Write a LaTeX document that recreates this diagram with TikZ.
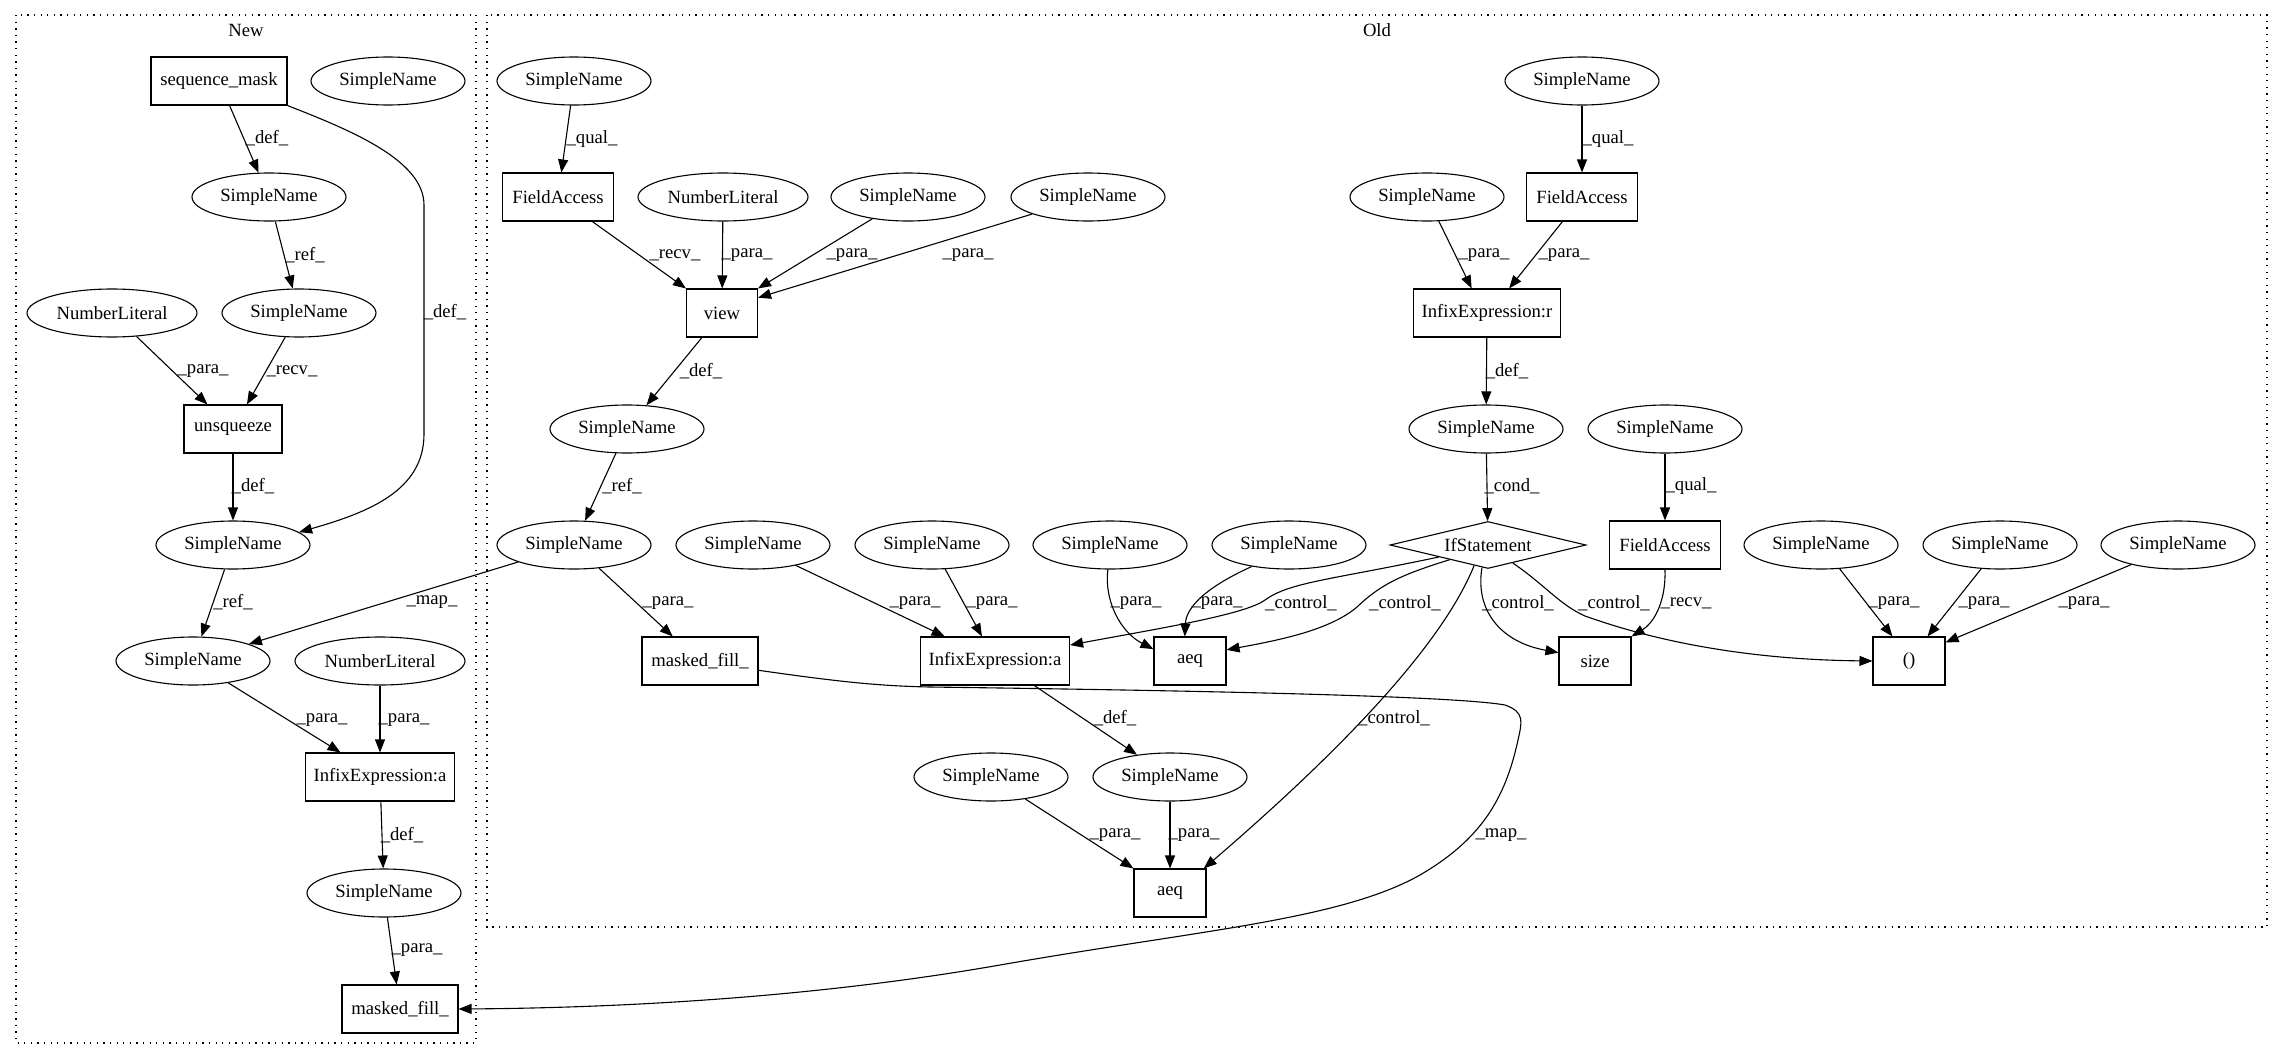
\documentclass[tikz,border=0pt]{standalone}
\usepackage{fontspec}
\setmainfont{Liberation Serif}
\usetikzlibrary{arrows.meta,shapes.geometric}
\tikzset{
  base/.style={draw, line width=1.1pt, font=\fontsize{18.67}{22}\selectfont, inner sep=0pt, minimum height=48pt},
  sn/.style={base, ellipse, minimum width=154pt},
  nl/.style={base, ellipse, minimum width=170pt},
  bx/.style={base, rectangle, minimum width=#1},
  dia/.style={base, diamond, minimum width=196pt, minimum height=47pt, aspect=4.17},
  edge/.style={line width=1.1pt, -{Triangle[length=13pt,width=10pt]}},
  lbl/.style={font=\fontsize{18.67}{22}\selectfont, inner sep=0pt},
  clus/.style={line width=1.3pt, dash pattern=on 1.3pt off 5.3pt}
}
\begin{document}
\begin{tikzpicture}[x=1pt,y=-1pt]
\path[use as bounding box, fill=white] (0,0) rectangle (2283,1060);
\draw[clus] (16,15) rectangle (476,1043);
\draw[clus] (487,15) rectangle (2267,927);
\node[lbl] (tnew) at (246,30) {New};
\node[lbl] (told) at (1377,30) {Old};

% ---------- New ----------
\node[bx=136pt] (nseq) at (219,81) {sequence\_mask};
\node[sn] (nsn0) at (388,81) {SimpleName};
\node[sn] (nsn1) at (269,197) {SimpleName};
\node[sn] (nsn2) at (299,313) {SimpleName};
\node[nl] (nnl1) at (112,313) {NumberLiteral};
\node[bx=98pt] (nunsq) at (233,429) {unsqueeze};
\node[sn] (nsn3) at (233,545) {SimpleName};
\node[sn] (nsn4) at (193,661) {SimpleName};
\node[nl] (nnl2) at (380,661) {NumberLiteral};
\node[bx=149pt] (ninfix) at (380,777) {InfixExpression:a};
\node[sn] (nsn5) at (384,893) {SimpleName};
\node[bx=116pt] (nmf) at (400,1009) {masked\_fill\_};

% ---------- Old ----------
\node[sn] (osn1) at (574,81) {SimpleName};
\node[sn] (osn2) at (1582,81) {SimpleName};
\node[bx=111pt] (ofa1) at (558,197) {FieldAccess};
\node[nl] (onl) at (723,197) {NumberLiteral};
\node[sn] (osn3) at (908,197) {SimpleName};
\node[sn] (osn4) at (1088,197) {SimpleName};
\node[sn] (osn5) at (1427,197) {SimpleName};
\node[bx=111pt] (ofa2) at (1582,197) {FieldAccess};
\node[bx=71pt] (oview) at (722,313) {view};
\node[bx=147pt] (oinfr) at (1487,313) {InfixExpression:r};
\node[sn] (osn6) at (627,429) {SimpleName};
\node[sn] (osn7) at (1486,429) {SimpleName};
\node[sn] (osn8) at (1665,429) {SimpleName};
\node[sn] (osn9) at (574,545) {SimpleName};
\node[sn] (osn10) at (753,545) {SimpleName};
\node[sn] (osn11) at (932,545) {SimpleName};
\node[sn] (osn12) at (1110,545) {SimpleName};
\node[sn] (osn13) at (1289,545) {SimpleName};
\node[dia] (oif) at (1488,545) {IfStatement};
\node[bx=111pt] (ofa3) at (1665,545) {FieldAccess};
\node[sn] (osn14) at (1821,545) {SimpleName};
\node[sn] (osn15) at (2000,545) {SimpleName};
\node[sn] (osn16) at (2178,545) {SimpleName};
\node[bx=116pt] (omf) at (700,661) {masked\_fill\_};
\node[bx=149pt] (oinfa) at (995,661) {InfixExpression:a};
\node[bx=72pt] (oaeq1) at (1190,661) {aeq};
\node[bx=72pt] (osize) at (1595,661) {size};
\node[bx=72pt] (oparen) at (1909,661) {()};
\node[sn] (osn17) at (991,777) {SimpleName};
\node[sn] (osn18) at (1170,777) {SimpleName};
\node[bx=72pt] (oaeq2) at (1170,893) {aeq};

% ---------- New edges ----------
\draw[edge] (nseq) -- (nsn1);
\node[lbl] (l1) at (267,138) {\_def\_};
\draw[edge] (nseq.south east) .. controls (350,130) and (424,160) .. (424,205) -- (424,434) .. controls (424,490) and (370,512) .. (nsn3.11);
\node[lbl] (l2) at (445,312) {\_def\_};
\draw[edge] (nsn1) -- (nsn2);
\node[lbl] (l3) at (305,255) {\_ref\_};
\draw[edge] (nnl1) -- (nunsq);
\node[lbl] (l4) at (203,371) {\_para\_};
\draw[edge] (nsn2) -- (nunsq);
\node[lbl] (l5) at (292,371) {\_recv\_};
\draw[edge] (nunsq) -- (nsn3);
\node[lbl] (l6) at (253,486) {\_def\_};
\draw[edge] (nsn3) -- (nsn4);
\node[lbl] (l7) at (233,602) {\_ref\_};
\draw[edge] (nsn4) -- (ninfix);
\node[lbl] (l8) at (322,720) {\_para\_};
\draw[edge] (nnl2) -- (ninfix);
\node[lbl] (l9) at (404,720) {\_para\_};
\draw[edge] (ninfix) -- (nsn5);
\node[lbl] (l10) at (402,835) {\_def\_};
\draw[edge] (nsn5) -- (nmf);
\node[lbl] (l11) at (417,950) {\_para\_};

% ---------- Old edges ----------
\draw[edge] (osn1) -- (ofa1);
\node[lbl] (l12) at (592,139) {\_qual\_};
\draw[edge] (ofa1) -- (oview.north west);
\node[lbl] (l13) at (675,255) {\_recv\_};
\draw[edge] (onl) -- (oview);
\node[lbl] (l14) at (747,255) {\_para\_};
\draw[edge] (osn3) -- (oview.north east);
\node[lbl] (l15) at (852,255) {\_para\_};
\draw[edge] (osn4) -- (oview.23);
\node[lbl] (l16) at (968,255) {\_para\_};
\draw[edge] (oview) -- (osn6);
\node[lbl] (l17) at (701,371) {\_def\_};
\draw[edge] (osn6) -- (osn9);
\node[lbl] (l18) at (622,486) {\_ref\_};
\draw[edge] (osn9) -- (nsn4);
\node[lbl] (l19) at (432,602) {\_map\_};
\draw[edge] (osn9) -- (omf.138);
\node[lbl] (l20) at (668,603) {\_para\_};
\draw[edge] (omf.-9) .. controls (840,682) and (880,686) .. (930,687)
  .. controls (1150,690) and (1450,695) .. (1505,705)
  .. controls (1525,712) and (1522,722) .. (1518,740)
  .. controls (1505,800) and (1480,840) .. (1420,875)
  .. controls (1340,920) and (1200,930) .. (1000,965)
  .. controls (800,1000) and (600,1008) .. (nmf.east);
\node[lbl] (l21) at (1501,835) {\_map\_};
\draw[edge] (osn10) -- (oinfa.154);
\node[lbl] (l22) at (915,603) {\_para\_};
\draw[edge] (osn11) -- (oinfa.118);
\node[lbl] (l23) at (992,603) {\_para\_};
\draw[edge] (osn12.-95) .. controls (1104,600) and (1120,632) .. (oaeq1.162);
\node[lbl] (l24) at (1136,603) {\_para\_};
\draw[edge] (osn13.-150) .. controls (1200,590) and (1186,610) .. (oaeq1.102);
\node[lbl] (l25) at (1217,603) {\_para\_};
\draw[edge] (oif.south west) .. controls (1330,580) and (1290,582) .. (1265,600) .. controls (1245,615) and (1150,630) .. (oinfa.12);
\node[lbl] (l26) at (1301,603) {\_control\_};
\draw[edge] (oif.-159) .. controls (1400,575) and (1380,585) .. (1357,607) .. controls (1330,630) and (1280,640) .. (oaeq1.17);
\node[lbl] (l27) at (1405,603) {\_control\_};
\draw[edge] (oif.-105) .. controls (1475,610) and (1500,642) .. (osize.167);
\node[lbl] (l28) at (1518,603) {\_control\_};
\draw[edge] (oif.-36) .. controls (1545,585) and (1560,605) .. (1585,616) .. controls (1680,650) and (1780,660) .. (oparen.west);
\node[lbl] (l29) at (1614,603) {\_control\_};
\draw[edge] (oif.-124) .. controls (1440,650) and (1330,760) .. (oaeq2.36);
\node[lbl] (l30) at (1394,718) {\_control\_};
\draw[edge] (ofa3.south) .. controls (1666,600) and (1655,622) .. (osize.north east);
\node[lbl] (l31) at (1686,603) {\_recv\_};
\draw[edge] (osn14) -- (oparen.124);
\node[lbl] (l32) at (1894,603) {\_para\_};
\draw[edge] (osn15) -- (oparen.53);
\node[lbl] (l33) at (1984,603) {\_para\_};
\draw[edge] (osn16) -- (oparen.27);
\node[lbl] (l34) at (2084,603) {\_para\_};
\draw[edge] (oinfa.-32) -- (osn18);
\node[lbl] (l35) at (1115,718) {\_def\_};
\draw[edge] (osn17) -- (oaeq2.north west);
\node[lbl] (l36) at (1115,835) {\_para\_};
\draw[edge] (osn18) -- (oaeq2);
\node[lbl] (l37) at (1194,835) {\_para\_};
\draw[edge] (osn2) -- (ofa2);
\node[lbl] (l38) at (1608,139) {\_qual\_};
\draw[edge] (osn5) -- (oinfr.122);
\node[lbl] (l39) at (1484,255) {\_para\_};
\draw[edge] (ofa2) -- (oinfr.48);
\node[lbl] (l40) at (1564,255) {\_para\_};
\draw[edge] (oinfr) -- (osn7);
\node[lbl] (l41) at (1507,371) {\_def\_};
\draw[edge] (osn7) -- (oif);
\node[lbl] (l42) at (1512,486) {\_cond\_};
\draw[edge] (osn8) -- (ofa3);
\node[lbl] (l43) at (1691,486) {\_qual\_};
\end{tikzpicture}
\end{document}
